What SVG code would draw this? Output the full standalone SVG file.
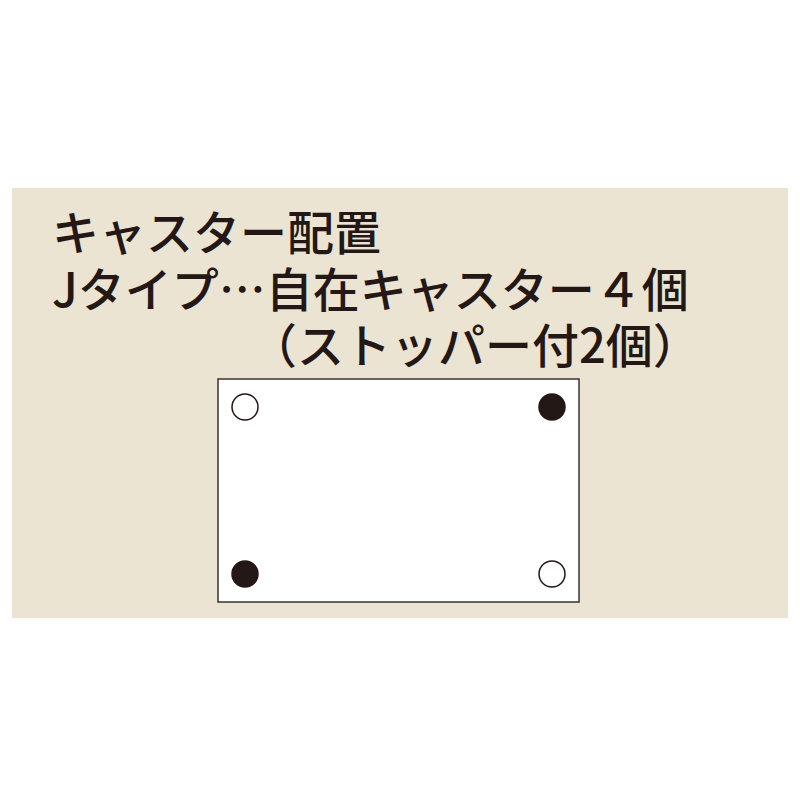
<svg xmlns="http://www.w3.org/2000/svg" width="800" height="800" viewBox="0 0 800 800">
<style>
.t{font-family:"Noto Sans CJK JP","Noto Sans",sans-serif;font-size:47px;fill:#231815;font-weight:500}
.c{stroke:#231815;stroke-width:1.5}
</style>
<rect x="0" y="0" width="800" height="800" fill="#ffffff"/>
<rect x="12" y="188" width="776" height="430" fill="#ebe4d3"/>
<text class="t" x="52" y="250">キャスター配置</text>
<text class="t" x="52" y="307">Jタイプ…自在キャスター４個</text>
<text class="t" x="250" y="363">（ストッパー付2個）</text>
<g id="plate">
<rect x="218" y="379" width="361" height="223" fill="#ffffff" stroke="#3a3230" stroke-width="1.5"/>
</g>
<g id="c1"><circle class="c" cx="245" cy="407" r="13" fill="#ffffff"/></g>
<g id="c2"><circle class="c" cx="552" cy="407" r="13" fill="#231815"/></g>
<g id="c3"><circle class="c" cx="245" cy="574" r="13" fill="#231815"/></g>
<g id="c4"><circle class="c" cx="552" cy="574" r="13" fill="#ffffff"/></g>
</svg>
